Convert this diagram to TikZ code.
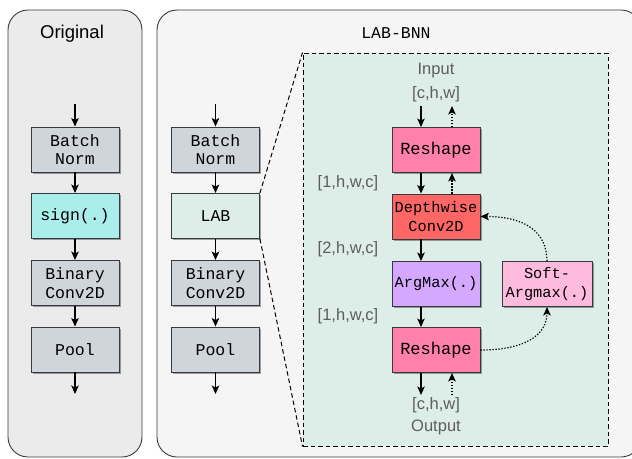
\documentclass[tikz,border=0pt]{standalone}
\usepackage{fontspec}
\setmainfont{Liberation Sans}
\setmonofont{Liberation Mono}
\usetikzlibrary{arrows.meta,shadows}
\definecolor{panelA}{HTML}{EBEBEB}
\definecolor{panelB}{HTML}{F5F5F5}
\definecolor{edge}{HTML}{36393D}
\definecolor{grayfill}{HTML}{D0D5DC}
\definecolor{signfill}{HTML}{AAEEEC}
\definecolor{labfill}{HTML}{DDEDE8}
\definecolor{reshapefill}{HTML}{FF80AB}
\definecolor{dwfill}{HTML}{FF6666}
\definecolor{amfill}{HTML}{D5A8FF}
\definecolor{safill}{HTML}{FFBBDD}
\definecolor{labeltext}{HTML}{5E5E5E}
\tikzset{
  x=1pt, y=-1pt,
  panel/.style={draw=edge, line width=0.9pt, rounded corners=20pt},
  blk/.style={draw=edge, line width=0.9pt, minimum width=88pt, minimum height=45pt,
    inner sep=0pt, align=center, font=\fontsize{16.5}{18.5}\selectfont\ttfamily,
    drop shadow={shadow xshift=1.5pt, shadow yshift=-1.5pt, opacity=0.35, fill=black}},
  smalltt/.style={font=\fontsize{15.3}{18.5}\selectfont\ttfamily},
  bigtt/.style={font=\fontsize{17}{18.5}\selectfont\ttfamily},
  arr/.style={-{Stealth[length=8.5pt,width=7.5pt,inset=2pt]}, line width=1.2pt, black},
  darr/.style={-{Stealth[length=8.5pt,width=7.5pt,inset=2pt]}, line width=1.2pt, black,
    dash pattern=on 1.3pt off 1.7pt},
  zoomln/.style={line width=1pt, dash pattern=on 4.5pt off 3pt},
  dimlbl/.style={text=labeltext, font=\fontsize{16.5}{20}\selectfont, inner sep=0pt},
}
\begin{document}
\begin{tikzpicture}
\useasboundingbox (0,0) rectangle (632,458);
% panels
\draw[panel, fill=panelA] (8,10) rectangle (142,457);
\draw[panel, fill=panelB] (157,10) rectangle (641,457);
\node[font=\fontsize{18.5}{20}\selectfont] (t1) at (72,34) {Original};
\node[font=\fontsize{16.5}{20}\selectfont\ttfamily] (t2) at (396,33) {LAB-BNN};

% left column
\node[blk, fill=grayfill] (bn1) at (75,149.5) {Batch\\Norm};
\node[blk, fill=signfill] (sg) at (75,216) {sign(.)};
\node[blk, fill=grayfill] (bc1) at (75,283) {Binary\\Conv2D};
\node[blk, fill=grayfill] (pl1) at (75,349.5) {Pool};
\coordinate (i1) at (75,104);
\coordinate (o1) at (75,394);
\draw[arr] (i1) -- (bn1);
\draw[arr] (bn1) -- (sg);
\draw[arr] (sg) -- (bc1);
\draw[arr] (bc1) -- (pl1);
\draw[arr] (pl1) -- (o1);

% zoomed box
\node[draw=black, zoomln, fill=labfill,
  minimum width=305pt, minimum height=393pt, inner sep=0pt] (dbox) at (455.5,249.5) {};

% middle column
\node[blk, fill=grayfill] (bn2) at (215.5,149.5) {Batch\\Norm};
\node[blk, fill=labfill] (lab) at (215.5,216) {LAB};
\node[blk, fill=grayfill] (bc2) at (215.5,283) {Binary\\Conv2D};
\node[blk, fill=grayfill] (pl2) at (215.5,349.5) {Pool};
\coordinate (i2) at (215.5,104);
\coordinate (o2) at (215.5,394);
\draw[arr] (i2) -- (bn2);
\draw[arr] (bn2) -- (lab);
\draw[arr] (lab) -- (bc2);
\draw[arr] (bc2) -- (pl2);
\draw[arr] (pl2) -- (o2);
\draw[zoomln] (lab.north east) -- (dbox.north west);
\draw[zoomln] (lab.south east) -- (dbox.south west);

% inner
\node[blk, fill=reshapefill, bigtt] (rs1) at (436,150) {Reshape};
\node[blk, fill=dwfill, smalltt] (dw) at (436,216.5) {Depthwise\\Conv2D};
\node[blk, fill=amfill, smalltt] (am) at (436,284) {ArgMax(.)};
\node[blk, fill=reshapefill, bigtt] (rs2) at (436,350) {Reshape};
\node[blk, fill=safill, smalltt, minimum width=90pt] (sa) at (547,284) {Soft-\\Argmax(.)};

\node[dimlbl] (inl) at (436,71) {Input};
\node[dimlbl] (ind) at (436,94) {[c,h,w]};
\node[dimlbl] (outd) at (436,405) {[c,h,w]};
\node[dimlbl] (outl) at (436,427) {Output};
\node[dimlbl] (d1) at (348,183) {[1,h,w,c]};
\node[dimlbl] (d2) at (348,249) {[2,h,w,c]};
\node[dimlbl] (d3) at (348,316) {[1,h,w,c]};

\coordinate (ia) at (421,106);
\coordinate (ib) at (452,106);
\coordinate (oa) at (421,395);
\coordinate (ob) at (452,395);
\draw[arr] (ia) -- (rs1.north -| ia);
\draw[darr] (rs1.north -| ib) -- (ib);
\draw[arr] (rs1.south -| ia) -- (dw.north -| ia);
\draw[darr] (dw.north -| ib) -- (rs1.south -| ib);
\draw[arr] (dw.south -| ia) -- (am.north -| ia);
\draw[arr] (am.south -| ia) -- (rs2.north -| ia);
\draw[arr] (rs2.south -| ia) -- (oa);
\draw[darr] (ob) -- (rs2.south -| ob);
\draw[darr] (rs2.east) .. controls (525,350) and (547,335) .. (sa.south);
\draw[darr] (sa.north) .. controls (547,232) and (525,216.5) .. (dw.east);
\end{tikzpicture}
\end{document}
